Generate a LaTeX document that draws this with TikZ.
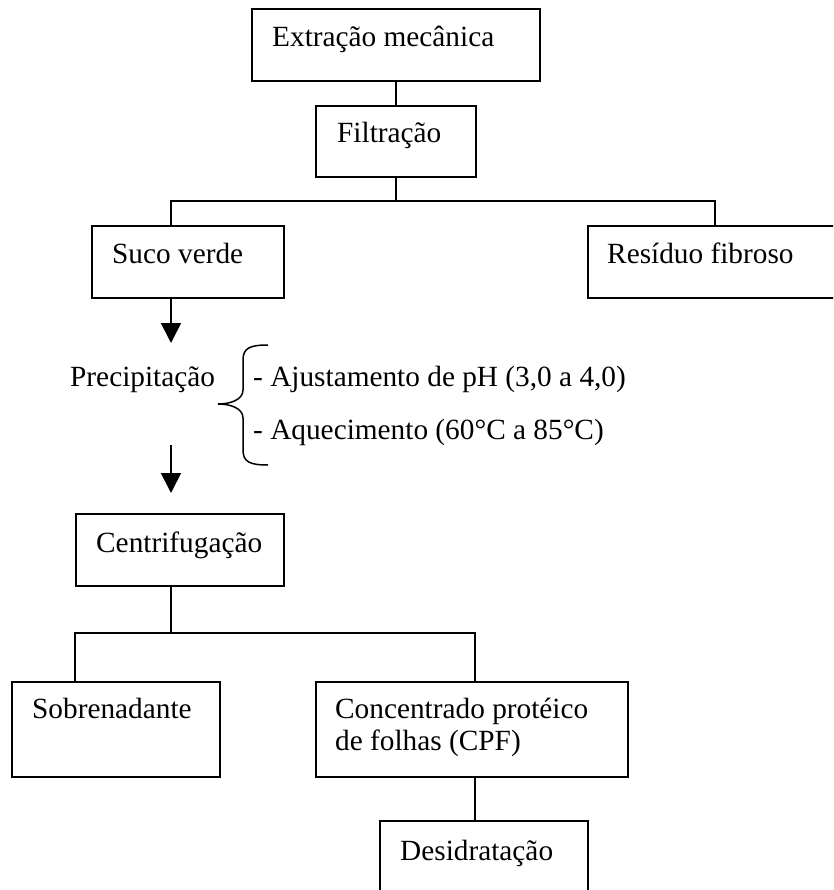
\documentclass[tikz,border=0pt]{standalone}
\usepackage{fontspec}
\setmainfont{Liberation Serif}
\usetikzlibrary{arrows.meta}
\begin{document}
\begin{tikzpicture}[x=1pt,y=-1pt,
  box/.style={draw,line width=2pt,rectangle,anchor=north west,inner sep=0pt},
  lbl/.style={anchor=base west,inner sep=0pt,font=\fontsize{29.3}{29}\selectfont},
  conn/.style={line width=1.7pt},
  arr/.style={line width=1.7pt,-{Triangle[width=20pt,length=20pt]}}]
\useasboundingbox (0,0) rectangle (833,890);
\clip (0,0) rectangle (833,890);
% boxes
\node[box,minimum width=288pt,minimum height=72pt] (E) at (251,8) {};
\node[box,minimum width=160pt,minimum height=71pt] (F) at (315,105) {};
\node[box,minimum width=192pt,minimum height=72pt] (S) at (91,225) {};
\node[box,minimum width=260pt,minimum height=72pt] (R) at (587,225) {};
\node[box,minimum width=208pt,minimum height=72pt] (C) at (75,513) {};
\node[box,minimum width=208pt,minimum height=95pt] (SB) at (11,681) {};
\node[box,minimum width=312pt,minimum height=95pt] (CPF) at (315,681) {};
\node[box,minimum width=208pt,minimum height=100pt] (D) at (379,820) {};
% texts
\node[lbl] (tE) at (272,47) {Extração mecânica};
\node[lbl] (tF) at (337,143) {Filtração};
\node[lbl] (tS) at (112,263) {Suco verde};
\node[lbl] (tR) at (607,263) {Resíduo fibroso};
\node[lbl] (tP) at (70,386) {Precipitação};
\node[lbl] (tA1) at (253,386) {- Ajustamento de pH (3,0 a 4,0)};
\node[lbl] (tA2) at (253,439) {- Aquecimento (60°C a 85°C)};
\node[lbl] (tC) at (96,552) {Centrifugação};
\node[lbl] (tSB) at (32,718) {Sobrenadante};
\node[lbl,align=left,font=\fontsize{29.3}{32}\selectfont] (tCPF) at (335,750) {Concentrado protéico\\de folhas (CPF)};
\node[lbl] (tD) at (400,860) {Desidratação};
% connectors
\coordinate (j1a) at (171,201);
\coordinate (j1b) at (715,201);
\coordinate (j2a) at (75,633);
\coordinate (j2b) at (475,633);
\coordinate (a1) at (171,343);
\coordinate (a2s) at (171,445);
\coordinate (a2) at (171,493);
\draw[conn] (E.south) -- (F.north);
\draw[conn] (F.south) -- (F.south |- j1a);
\draw[conn] (j1a |- S.north) -- (j1a) -- (j1b) -- (j1b |- R.north);
\draw[arr] (j1a |- S.south) -- (a1);
\draw[arr] (a2s) -- (a2);
\draw[conn] (C.south -| a2) -- (a2 |- j2a);
\draw[conn] (j2a |- SB.north) -- (j2a) -- (j2b) -- (j2b |- CPF.north);
\draw[conn] (j2b |- CPF.south) -- (j2b |- D.north);
% brace
\draw[line width=1.5pt] (268,345) .. controls (250,345) and (243,348) .. (243,360)
  -- (243,390) .. controls (243,400) and (230,404) .. (218,404)
  .. controls (230,404) and (243,408) .. (243,418)
  -- (243,450) .. controls (243,462) and (250,465) .. (268,465);
\end{tikzpicture}
\end{document}
